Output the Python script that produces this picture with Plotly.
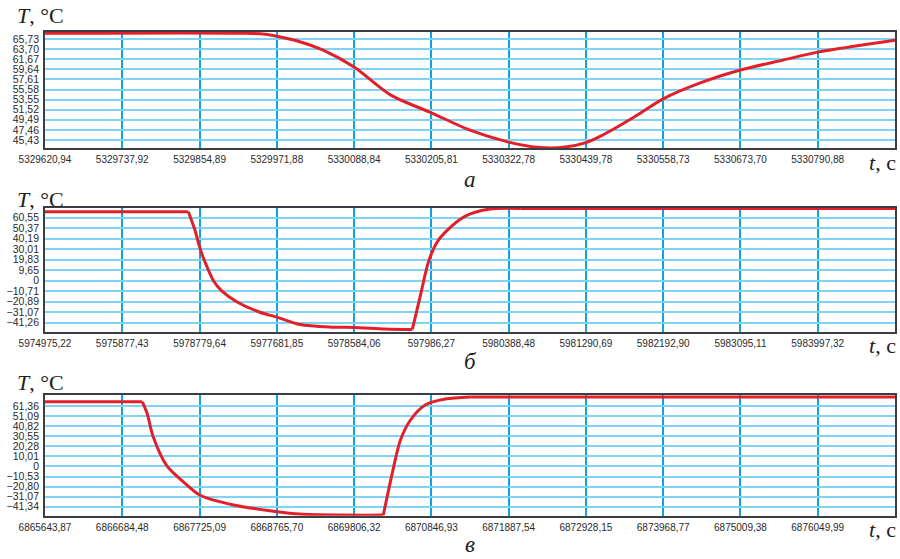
import plotly.graph_objects as go

W, H = 900, 559

# ---------------- data ----------------
# x tick labels (time, s) shown at equal spacing on each panel
time_labels_a = ["5329620,94", "5329737,92", "5329854,89", "5329971,88", "5330088,84",
                 "5330205,81", "5330322,78", "5330439,78", "5330558,73", "5330673,70",
                 "5330790,88"]
time_labels_b = ["5974975,22", "5975877,43", "5978779,64", "5977681,85", "5978584,06",
                 "597986,27", "5980388,48", "5981290,69", "5982192,90", "5983095,11",
                 "5983997,32"]
time_labels_c = ["6865643,87", "6866684,48", "6867725,09", "6868765,70", "6869806,32",
                 "6870846,93", "6871887,54", "6872928,15", "6873968,77", "6875009,38",
                 "6876049,99"]

# y tick values / labels (T, °C)
temp_ticks_a = [45.43, 47.46, 49.49, 51.52, 53.55, 55.58, 57.61, 59.64, 61.67, 63.70, 65.73]
temp_text_a = ["45,43", "47,46", "49,49", "51,52", "53,55", "55,58", "57,61", "59,64",
               "61,67", "63,70", "65,73"]
temp_ticks_b = [-41.26, -31.07, -20.89, -10.71, -0.53, 9.65, 19.83, 30.01, 40.19, 50.37, 60.55]
temp_text_b = ["−41,26", "−31,07", "−20,89", "−10,71", "0", "9,65", "19,83", "30,01",
               "40,19", "50,37", "60,55"]
temp_ticks_c = [-41.34, -31.07, -20.80, -10.53, -0.26, 10.01, 20.28, 30.55, 40.82, 51.09, 61.36]
temp_text_c = ["−41,34", "−31,07", "−20,80", "−10,53", "0", "10,01", "20,28", "30,55",
               "40,82", "51,09", "61,36"]

# curves: x in tick-interval units, T in °C
curve_a_x = [0, 2.6, 2.85, 3.0, 3.3, 3.6, 4.0, 4.47, 5.0, 5.5, 6.0, 6.41, 6.73, 7.0,
             7.19, 7.62, 8.0, 8.48, 9.0, 9.55, 10.0, 11.0]
curve_a_t = [66.9, 66.9, 66.7, 66.3, 65.2, 63.5, 60.1, 54.5, 50.9, 47.4, 45.0, 43.9, 44.0,
             44.9, 46.2, 50.0, 53.7, 56.9, 59.5, 61.5, 63.1, 65.5]

curve_b_x = [0, 1.855, 1.94, 2.0, 2.07, 2.18, 2.29, 2.48, 2.78, 3.0, 3.3, 3.7, 4.0, 4.4,
             4.754, 4.857, 4.961, 5.065, 5.18, 5.44, 5.76, 6.15, 11.0]
curve_b_t = [66.4, 66.4, 48.6, 32.3, 17.7, -0.5, -10.7, -20.9, -31.1, -35.9, -43.1, -45.6,
             -45.9, -47.3, -47.8, -15.2, 17.4, 35.9, 46.6, 62.2, 69.0, 69.6, 69.6]

curve_c_x = [0, 1.26, 1.32, 1.40, 1.58, 1.79, 2.0, 2.44, 3.0, 3.3, 3.8, 4.378, 4.48,
             4.60, 4.73, 4.92, 5.18, 5.51, 11.0]
curve_c_t = [65.7, 65.7, 54.2, 30.0, 0.0, -15.9, -29.4, -39.6, -46.4, -48.8, -49.8, -49.9,
             -12.1, 26.7, 47.1, 62.4, 68.5, 70.5, 70.5]

# ---------------- layout helpers ----------------
def py(p):
    return 1 - p / H

# corners: indices where the curve has a sharp break (drawn as separate smooth pieces)
panels = [
    dict(top=32, bottom=148.3, yr=[43.76, 67.15], labels=time_labels_a,
         tv=temp_ticks_a, tt=temp_text_a, x=curve_a_x, t=curve_a_t, corners=[],
         letter="а", tpos=16, letpos=179),
    dict(top=207.7, bottom=331.7, yr=[-50.0, 70.3], labels=time_labels_b,
         tv=temp_ticks_b, tt=temp_text_b, x=curve_b_x, t=curve_b_t, corners=[1, 14, 21],
         letter="б", tpos=199, letpos=361),
    dict(top=395, bottom=515.7, yr=[-50.5, 72.6], labels=time_labels_c,
         tv=temp_ticks_c, tt=temp_text_c, x=curve_c_x, t=curve_c_t, corners=[1, 11, 17],
         letter="в", tpos=382, letpos=544),
]

fig = go.Figure()
layout = dict(width=W, height=H, margin=dict(l=0, r=0, t=0, b=0, autoexpand=False),
              paper_bgcolor="white", plot_bgcolor="white", showlegend=False,
              annotations=[])

tick_font = dict(family="Liberation Sans, Arial", size=10, color="#2a2a2a")
serif = "Liberation Serif, Times New Roman"

for i, p in enumerate(panels, start=1):
    sfx = "" if i == 1 else str(i)
    bounds = [0] + p["corners"] + [len(p["x"]) - 1]
    for a, b in zip(bounds[:-1], bounds[1:]):
        fig.add_trace(go.Scatter(
            x=p["x"][a:b + 1], y=p["t"][a:b + 1], mode="lines",
            line=dict(color="#e3202a", width=3, shape="spline", smoothing=0.8),
            xaxis="x" + sfx, yaxis="y" + sfx, hoverinfo="skip"))
    layout["xaxis" + sfx] = dict(
        domain=[45 / W, 895 / W], anchor="y" + sfx, range=[0, 11],
        tickmode="array", tickvals=list(range(len(p["labels"]))), ticktext=p["labels"],
        showgrid=True, gridcolor="#12a2e2", gridwidth=1.5, zeroline=False,
        showline=True, linecolor="#3a3f44", linewidth=1.8, mirror=True,
        ticks="", ticklabelstandoff=1, tickfont=tick_font, fixedrange=True,
        automargin=False)
    layout["yaxis" + sfx] = dict(
        domain=[py(p["bottom"]), py(p["top"])], anchor="x" + sfx, range=p["yr"],
        tickmode="array", tickvals=p["tv"], ticktext=p["tt"],
        showgrid=True, gridcolor="#7fd3f6", gridwidth=2, zeroline=False,
        showline=True, linecolor="#3a3f44", linewidth=1.8, mirror=True,
        ticks="", tickfont=dict(family="Liberation Sans, Arial", size=10.5, color="#2a2a2a"),
        ticklabelstandoff=2, fixedrange=True, automargin=False)
    layout["annotations"] += [
        dict(text="<i>T</i>, °C", x=15 / W, y=py(p["tpos"]), xref="paper", yref="paper",
             xanchor="left", yanchor="middle", showarrow=False,
             font=dict(family=serif, size=22, color="#222222")),
        dict(text="<i>t</i>, с", x=898 / W, y=py(p["bottom"] + 14), xref="paper",
             yref="paper", xanchor="right", yanchor="middle", showarrow=False,
             font=dict(family=serif, size=22, color="#222222")),
        dict(text="<i>" + p["letter"] + "</i>", x=470 / W, y=py(p["letpos"]), xref="paper",
             yref="paper", xanchor="center", yanchor="middle", showarrow=False,
             borderpad=0, font=dict(family=serif, size=23, color="#222222")),
    ]

fig.update_layout(**layout)
fig.write_html("out.html", config={"displayModeBar": False},
               post_script="document.body.style.margin='0';"
                           "document.body.style.overflow='hidden';")
